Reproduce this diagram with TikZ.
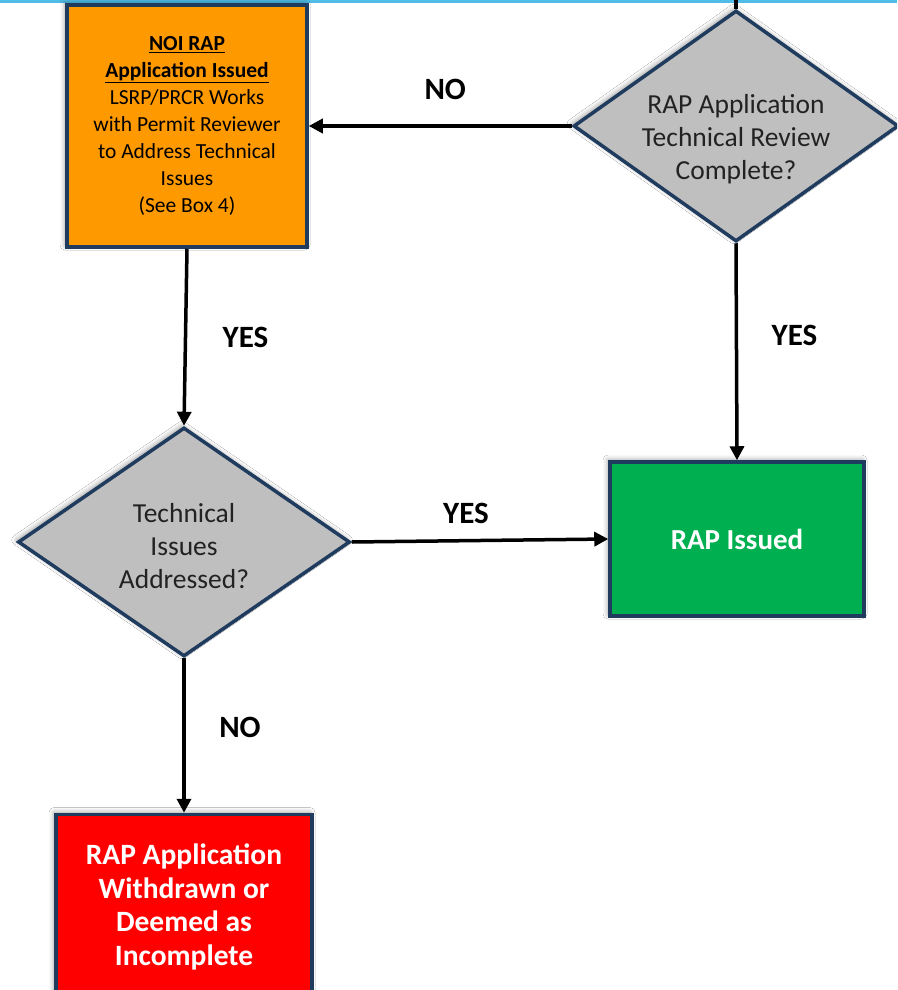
\documentclass[tikz,border=0pt]{standalone}
\usepackage{fontspec}
\setmainfont{Carlito}
\usetikzlibrary{shapes.geometric,arrows.meta,shadows.blur}

\definecolor{boxline}{HTML}{1F3B5E}
\definecolor{askfill}{HTML}{BFBFBF}
\definecolor{asktext}{HTML}{222222}
\definecolor{okgreen}{HTML}{00B050}
\definecolor{stopred}{HTML}{FF0000}
\definecolor{noiorange}{HTML}{FF9900}
\definecolor{topband}{HTML}{4FBDE7}

\tikzset{
  proc/.style={draw=boxline,line width=3.5pt,rectangle,align=center,inner sep=0pt,
    blur shadow={shadow xshift=-2pt,shadow yshift=2pt,shadow blur radius=5pt,shadow opacity=40}},
  ask/.style={draw=boxline,line width=3.5pt,diamond,fill=askfill,inner sep=0pt,
    blur shadow={shadow xshift=-2pt,shadow yshift=2pt,shadow blur radius=5pt,shadow opacity=40}},
  asktxt/.style={text=asktext,align=center,inner sep=0pt,font=\fontsize{27.5}{33}\selectfont},
  flow/.style={line width=3.5pt,-{Triangle[length=14pt,width=14pt]}},
  lbl/.style={font=\bfseries\fontsize{31}{33}\selectfont},
}

\begin{document}
\begin{tikzpicture}[x=1pt,y=-1pt]
\clip (0,0) rectangle (897,990);
\fill[white] (0,0) rectangle (897,990);
\fill[topband] (0,0) rectangle (897,3.5);

\node[proc,fill=noiorange,minimum width=240,minimum height=242,
  font=\fontsize{21.5}{27}\selectfont](noi) at (187,126)
  {\underline{\textbf{NOI RAP}}\\ \underline{\textbf{Application Issued}}\\ LSRP/PRCR Works\\
   with Permit Reviewer\\ to Address Technical\\ Issues\\ (See Box 4)};
\node[ask,minimum width=325,minimum height=231,
  label={[asktxt,yshift=-13pt]center:{RAP Application\\ Technical Review\\ Complete?}}](review) at (736,126) {};
\node[ask,minimum width=332,minimum height=229,
  label={[asktxt,yshift=-4pt]center:{Technical\\ Issues\\ Addressed?}}](fixed) at (184,542) {};
\node[proc,fill=okgreen,text=white,minimum width=254,minimum height=154,
  font=\bfseries\fontsize{29}{33}\selectfont](rap) at (737,539) {RAP Issued};
\node[proc,fill=stopred,text=white,minimum width=256,minimum height=185,
  font=\bfseries\fontsize{29.5}{33.5}\selectfont](gone) at (184,907)
  {RAP Application\\ Withdrawn or\\ Deemed as\\ Incomplete};

\coordinate (above) at (736,-30);

\draw [line width=3.5pt] (above) -- (review.north);
\draw [flow] (review.west) -- node[lbl,yshift=37pt,xshift=5pt]{NO} (noi.east);
\draw [flow] (noi.south) -- node[lbl,xshift=60pt]{YES} (fixed.north);
\draw [flow] (fixed.east) -- node[lbl,yshift=27pt,xshift=-14pt]{YES} (rap.west);
\draw [flow] (review.south) -- node[lbl,xshift=58pt,yshift=16pt]{YES} (rap.north);
\draw [flow] (fixed.south) -- node[lbl,xshift=56pt,yshift=8pt]{NO} (gone.north);
\end{tikzpicture}
\end{document}
